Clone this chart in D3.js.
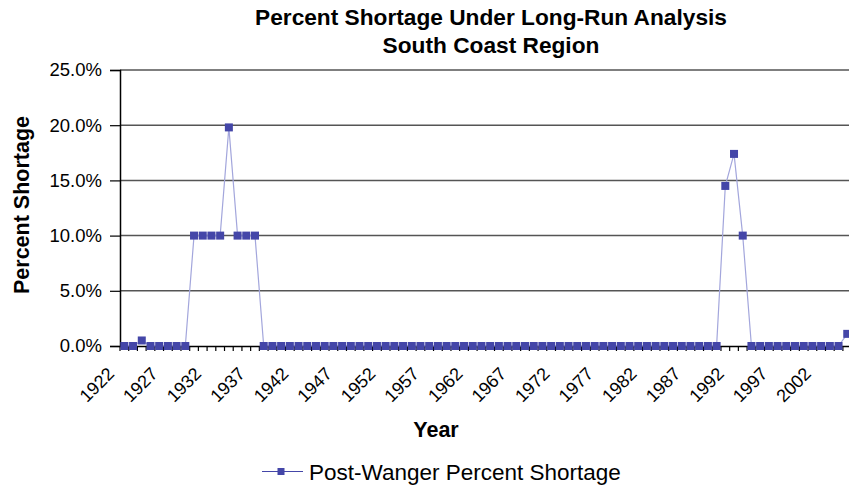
<!DOCTYPE html>
<html>
<head>
<meta charset="utf-8">
<script src="https://cdn.jsdelivr.net/npm/d3@7"></script>
<style>
  html, body { margin: 0; padding: 0; background: #fff; }
  svg { display: block; overflow: hidden; font-family: "Liberation Sans", Arial, sans-serif; }
</style>
</head>
<body>
<div id="chart"></div>
<script>
// water years on the category axis
const years = [
  1922, 1923, 1924, 1925, 1926, 1927, 1928, 1929, 1930, 1931,
  1932, 1933, 1934, 1935, 1936, 1937, 1938, 1939, 1940, 1941,
  1942, 1943, 1944, 1945, 1946, 1947, 1948, 1949, 1950, 1951,
  1952, 1953, 1954, 1955, 1956, 1957, 1958, 1959, 1960, 1961,
  1962, 1963, 1964, 1965, 1966, 1967, 1968, 1969, 1970, 1971,
  1972, 1973, 1974, 1975, 1976, 1977, 1978, 1979, 1980, 1981,
  1982, 1983, 1984, 1985, 1986, 1987, 1988, 1989, 1990, 1991,
  1992, 1993, 1994, 1995, 1996, 1997, 1998, 1999, 2000, 2001,
  2002, 2003, 2004, 2005
];

// percent shortage
const shortage = [
  0, 0, 0.5, 0, 0, 0, 0, 0, 10, 10,
  10, 10, 19.8, 10, 10, 10, 0, 0, 0, 0,
  0, 0, 0, 0, 0, 0, 0, 0, 0, 0,
  0, 0, 0, 0, 0, 0, 0, 0, 0, 0,
  0, 0, 0, 0, 0, 0, 0, 0, 0, 0,
  0, 0, 0, 0, 0, 0, 0, 0, 0, 0,
  0, 0, 0, 0, 0, 0, 0, 0, 0, 14.5,
  17.4, 10, 0, 0, 0, 0, 0, 0, 0, 0,
  0, 0, 0, 1.1
];

const tickYears = [1922, 1927, 1932, 1937, 1942, 1947, 1952, 1957, 1962, 1967,
  1972, 1977, 1982, 1987, 1992, 1997, 2002];
const yTicks = [0, 5, 10, 15, 20, 25];

const titleLines = ["Percent Shortage Under Long-Run Analysis", "South Coast Region"];
const seriesName = "Post-Wanger Percent Shortage";

const W = 849, H = 487;
const plotLeft = 120, plotRight = 851.6, plotTop = 70, plotBottom = 346;
const markerColor = "#4446a8";
const lineColor = "#a3a6dc";

const data = years.map((yr, i) => ({ year: yr, value: shortage[i] }));

const svg = d3.select("#chart").append("svg").attr("width", W).attr("height", H);

const x = d3.scaleBand().domain(years).range([plotLeft, plotRight]).padding(0);
const y = d3.scaleLinear().domain([0, 25]).range([plotBottom, plotTop]);
const cx = (yr) => x(yr) + x.bandwidth() / 2;

/* ---------- gridlines ---------- */
svg.append("g").selectAll("line")
  .data(yTicks.filter((t) => t > 0))
  .enter()
  .append("line")
  .attr("x1", plotLeft).attr("x2", plotRight)
  .attr("y1", (d) => y(d)).attr("y2", (d) => y(d))
  .attr("stroke", "#555").attr("stroke-width", 1.5);

/* ---------- y axis ---------- */
const yAxis = svg.append("g")
  .attr("transform", `translate(${plotLeft},0)`)
  .call(d3.axisLeft(y).tickValues(yTicks).tickSize(10).tickPadding(8)
    .tickFormat((d) => d.toFixed(1) + "%"));
yAxis.select(".domain").attr("stroke", "#000").attr("stroke-width", 1.5);
yAxis.selectAll(".tick line").attr("stroke", "#000").attr("stroke-width", 1.2);
yAxis.selectAll("text")
  .attr("font-size", "18.5px").attr("fill", "#000")
  .attr("font-family", "Liberation Sans, Arial, sans-serif");

/* ---------- x axis ---------- */
const xAxis = svg.append("g")
  .attr("transform", `translate(0,${plotBottom})`)
  .call(d3.axisBottom(x).tickValues(tickYears).tickSize(0).tickFormat(""));
xAxis.select(".domain").attr("stroke", "#000").attr("stroke-width", 1.5);

// tick marks sit between categories
svg.append("g").selectAll("line")
  .data(years.concat(["end"]))
  .enter()
  .append("line")
  .attr("x1", (d) => (d === "end" ? plotRight : x(d)))
  .attr("x2", (d) => (d === "end" ? plotRight : x(d)))
  .attr("y1", plotBottom).attr("y2", plotBottom + 5)
  .attr("stroke", "#000").attr("stroke-width", 1.2);

svg.append("g").selectAll("text")
  .data(tickYears)
  .enter()
  .append("text")
  .attr("transform", (d) => `translate(${cx(d) - 9},375) rotate(-45)`)
  .attr("text-anchor", "end")
  .attr("font-size", "18px")
  .attr("fill", "#000")
  .text((d) => d);

/* ---------- series ---------- */
svg.append("path")
  .datum(data)
  .attr("fill", "none")
  .attr("stroke", lineColor)
  .attr("stroke-width", 1.2)
  .attr("d", d3.line().x((d) => cx(d.year)).y((d) => y(d.value)));

const ms = 8;
svg.append("g").selectAll("rect")
  .data(data)
  .enter()
  .append("rect")
  .attr("x", (d) => cx(d.year) - ms / 2)
  .attr("y", (d) => y(d.value) - ms / 2)
  .attr("width", ms).attr("height", ms)
  .attr("fill", markerColor);

/* ---------- titles ---------- */
svg.append("g").selectAll("text")
  .data(titleLines)
  .enter()
  .append("text")
  .attr("x", 491)
  .attr("y", (d, i) => 25 + i * 28)
  .attr("text-anchor", "middle")
  .attr("font-size", "22.7px")
  .attr("font-weight", "bold")
  .text((d) => d);

svg.append("text")
  .attr("transform", "translate(29,205) rotate(-90)")
  .attr("text-anchor", "middle")
  .attr("font-size", "21.5px")
  .attr("font-weight", "bold")
  .text("Percent Shortage");

svg.append("text")
  .attr("x", 436).attr("y", 437)
  .attr("text-anchor", "middle")
  .attr("font-size", "21.5px")
  .attr("font-weight", "bold")
  .text("Year");

/* ---------- legend ---------- */
const lg = svg.append("g");
lg.append("line")
  .attr("x1", 262).attr("x2", 303).attr("y1", 471.5).attr("y2", 471.5)
  .attr("stroke", markerColor).attr("stroke-width", 1.2);
lg.append("rect")
  .attr("x", 281 - 3.5).attr("y", 471.5 - 3.5)
  .attr("width", 7).attr("height", 7)
  .attr("fill", markerColor);
lg.append("text")
  .attr("x", 309).attr("y", 480)
  .attr("font-size", "22.5px")
  .attr("fill", "#000")
  .text(seriesName);
</script>
</body>
</html>
